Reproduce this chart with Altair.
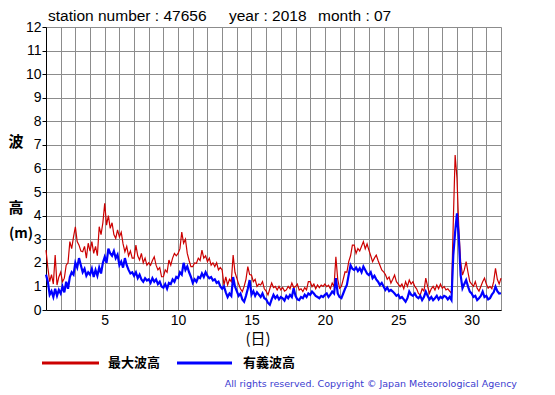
import altair as alt
import pandas as pd

# 3-hourly readings, one row per day (00,03,...,21 h), July 2018, station 47656
max_wave = [
    2.54, 1.80, 1.20, 1.50, 1.10, 2.33, 1.06, 1.40,
    1.60, 1.20, 1.35, 1.90, 2.00, 2.90, 2.60, 3.10,
    3.53, 2.90, 2.75, 2.50, 2.47, 2.70, 2.20, 2.83,
    2.50, 2.90, 2.40, 2.70, 2.30, 3.53, 3.20, 3.70,
    4.52, 3.60, 4.00, 3.46, 3.70, 3.20, 3.04, 3.40,
    3.10, 3.30, 2.80, 2.47, 2.70, 2.30, 2.50, 2.20,
    2.20, 2.75, 2.30, 2.12, 2.40, 2.00, 2.20, 1.90,
    2.00, 1.90, 2.10, 2.26, 1.90, 1.70, 1.80, 1.41,
    1.41, 1.70, 1.60, 2.12, 1.90, 2.20, 2.40, 2.30,
    2.40, 2.60, 3.30, 2.83, 3.00, 2.40, 2.10, 1.84,
    1.84, 2.00, 1.98, 2.20, 2.10, 2.54, 2.20, 2.30,
    2.05, 2.20, 1.90, 2.00, 1.84, 2.00, 1.70, 1.80,
    1.70, 1.06, 1.40, 1.06, 1.30, 1.20, 2.33, 1.60,
    1.35, 1.10, 0.90, 0.78, 1.00, 1.30, 1.84, 1.50,
    1.48, 1.20, 1.30, 1.00, 1.10, 1.06, 1.20, 0.90,
    0.80, 0.64, 0.90, 1.14, 0.95, 1.00, 0.85, 1.00,
    0.85, 0.95, 0.80, 0.85, 1.00, 0.90, 1.14, 0.95,
    0.99, 1.10, 0.85, 0.90, 0.78, 0.95, 0.85, 1.20,
    1.20, 0.99, 1.10, 0.90, 1.06, 0.95, 1.06, 1.00,
    1.10, 0.99, 1.05, 0.90, 1.14, 1.00, 2.26, 1.30,
    0.92, 1.00, 1.30, 1.62, 1.60, 2.05, 2.30, 2.75,
    2.75, 2.40, 2.61, 2.50, 2.70, 2.90, 2.60, 2.80,
    2.54, 2.30, 2.05, 2.20, 2.33, 2.10, 1.90, 1.70,
    1.62, 1.50, 1.30, 1.40, 1.14, 1.30, 1.48, 1.20,
    1.10, 0.99, 1.10, 0.90, 1.20, 1.00, 1.27, 1.10,
    1.20, 1.00, 0.90, 0.70, 0.64, 0.90, 0.80, 1.35,
    1.00, 0.71, 0.90, 1.00, 0.85, 1.06, 0.90, 1.10,
    0.92, 1.00, 0.85, 0.90, 0.80, 0.71, 3.74, 6.57,
    5.60, 3.47, 2.05, 1.48, 1.70, 2.05, 1.60, 1.20,
    1.10, 1.00, 1.20, 0.92, 0.80, 1.00, 1.20, 1.35,
    1.10, 0.92, 1.00, 0.90, 1.20, 1.77, 1.30, 1.10,
    1.35,
]

sig_wave = [
    1.50, 1.20, 0.65, 0.80, 0.55, 0.90, 0.60, 0.85,
    0.70, 1.00, 0.75, 1.20, 0.90, 1.40, 1.60, 1.50,
    2.00, 1.80, 2.20, 1.90, 1.60, 1.75, 1.45, 1.60,
    1.50, 1.75, 1.40, 1.70, 1.45, 1.80, 1.55, 2.00,
    2.25, 2.00, 2.60, 2.40, 2.30, 2.50, 2.20, 2.35,
    1.90, 2.05, 1.80, 2.20, 1.90, 1.70, 1.55, 1.60,
    1.45, 1.60, 1.35, 1.50, 1.30, 1.20, 1.35, 1.25,
    1.30, 1.15, 1.35, 1.20, 1.30, 1.10, 1.20, 1.00,
    0.95, 1.10, 0.90, 1.15, 1.10, 1.30, 1.20, 1.40,
    1.35, 1.60, 1.50, 2.00, 1.70, 1.85, 1.60, 1.40,
    1.15, 1.30, 1.20, 1.40, 1.35, 1.55, 1.40, 1.60,
    1.45, 1.35, 1.40, 1.25, 1.30, 1.15, 1.20, 1.00,
    0.90, 1.00, 0.75, 0.55, 0.70, 0.60, 1.40, 1.00,
    0.80, 0.60, 0.70, 0.45, 0.35, 0.60, 0.90, 1.27,
    0.65, 0.80, 0.60, 0.75, 0.65, 0.55, 0.70, 0.50,
    0.45, 0.30, 0.22, 0.45, 0.64, 0.50, 0.60, 0.45,
    0.55, 0.50, 0.40, 0.60, 0.50, 0.64, 0.55, 0.92,
    0.60, 0.45, 0.42, 0.55, 0.50, 0.65, 0.55, 0.70,
    0.64, 0.78, 0.70, 0.60, 0.55, 0.50, 0.60, 0.55,
    0.64, 0.70, 0.55, 0.65, 0.78, 0.70, 1.35, 0.70,
    0.55, 0.50, 0.70, 0.90, 1.06, 1.50, 1.90, 1.75,
    1.70, 1.80, 1.65, 1.77, 1.60, 1.84, 1.70, 1.55,
    1.48, 1.60, 1.35, 1.45, 1.30, 1.20, 1.06, 1.15,
    1.00, 0.85, 0.95, 0.80, 0.85, 0.78, 0.70, 0.60,
    0.65, 0.50, 0.55, 0.45, 0.35, 0.50, 0.78, 0.65,
    0.60, 0.70, 0.56, 0.50, 0.60, 0.42, 0.55, 0.78,
    0.60, 0.45, 0.55, 0.42, 0.50, 0.60, 0.45, 0.56,
    0.50, 0.60, 0.56, 0.45, 0.55, 0.42, 2.33, 3.30,
    4.10, 3.05, 1.48, 0.92, 1.10, 1.27, 1.00, 0.78,
    0.70, 0.55, 0.60, 0.42, 0.50, 0.60, 0.78, 0.55,
    0.60, 0.45, 0.50, 0.65, 0.75, 0.99, 0.80, 0.70,
    0.71,
]

series_names = ["最大波高", "有義波高"]
series_colors = ["#cc0000", "#0000ff"]
x_ticks = list(range(1, 33))
y_ticks = list(range(0, 13))

steps_per_day = 8
t = [1 + i / steps_per_day for i in range(len(max_wave))]
df_max = pd.DataFrame({"day": t, "height": max_wave})
df_sig = pd.DataFrame({"day": t, "height": sig_wave})

W, H = 455, 283

xscale = alt.Scale(domain=[1, 32], nice=False, zero=False)
yscale = alt.Scale(domain=[0, 12], nice=False)

xaxis = alt.Axis(values=x_ticks, title=None, ticks=False, grid=True,
                 labelExpr="datum.value % 5 == 0 ? datum.label : ''",
                 labelFontSize=14, labelFont="Liberation Sans", labelColor="black",
                 labelPadding=3, domainColor="black", gridColor="#8c8c8c",
                 labelFlush=False, labelOverlap=False, tickCount=len(x_ticks))
yaxis = alt.Axis(values=y_ticks, title=None, ticks=True, tickSize=4, tickColor="black",
                 grid=True, labelFontSize=14, labelFont="Liberation Sans",
                 labelColor="black", labelPadding=1, domainColor="black",
                 gridColor="#8c8c8c", labelOverlap=False, labelFlush=False,
                 tickCount=len(y_ticks))

red = alt.Chart(df_max).mark_line(color=series_colors[0], strokeWidth=1.2).encode(
    x=alt.X("day:Q", scale=xscale, axis=xaxis),
    y=alt.Y("height:Q", scale=yscale, axis=yaxis),
)
blue = alt.Chart(df_sig).mark_line(color=series_colors[1], strokeWidth=2.2).encode(
    x=alt.X("day:Q", scale=xscale, axis=xaxis),
    y=alt.Y("height:Q", scale=yscale, axis=yaxis),
)

one = pd.DataFrame({"a": [0]})

def txt(s, x, y, size=14, font="Liberation Sans", weight="normal", align="left",
        color="black"):
    return alt.Chart(one).mark_text(
        text=s, fontSize=size, font=font, fontWeight=weight, align=align,
        baseline="middle", color=color
    ).encode(x=alt.value(x), y=alt.value(y))

def seg(x1, x2, y, color):
    return alt.Chart(one).mark_rule(color=color, strokeWidth=3).encode(
        x=alt.value(x1), x2=alt.value(x2), y=alt.value(y))

cjk = "Noto Sans CJK JP"
texts = [
    txt("station number : 47656", 2, -11, size=15.5),
    txt("year : 2018", 183, -11, size=15.5),
    txt("month : 07", 272, -11, size=15.5),
    txt("波", -30, 115, size=15, font=cjk, weight="bold", align="center"),
    txt("高", -30, 181, size=15, font=cjk, weight="bold", align="center"),
    txt("(m)", -25, 207, size=14, font=cjk, weight="bold", align="center"),
    txt("(日)", 212, 312, size=15, font=cjk, weight="normal", align="center"),
    seg(-4, 53, 336, series_colors[0]),
    txt(series_names[0], 62, 336, size=13, font=cjk, weight="bold"),
    seg(131, 186, 336, series_colors[1]),
    txt(series_names[1], 197, 336, size=13, font=cjk, weight="bold"),
    txt("All rights reserved. Copyright © Japan Meteorological Agency", 471, 357,
        size=9.5, font="DejaVu Sans", align="right", color="#3c3cd0"),
]

chart = alt.layer(red, blue, *texts).properties(
    width=W, height=H,
    autosize=alt.AutoSizeParams(type="none"),
    padding={"left": 38, "top": 19, "right": 46, "bottom": 81},
).configure_view(stroke="black", strokeWidth=1).configure(background="white")

chart.save("out.html", embed_options={"renderer": "svg", "actions": False})
